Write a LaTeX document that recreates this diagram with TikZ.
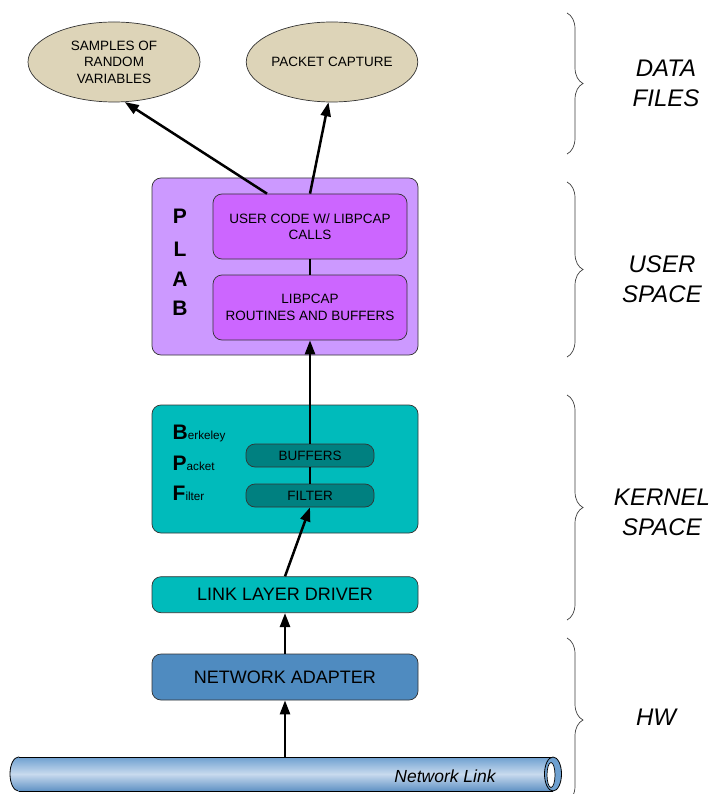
\documentclass[tikz,border=0pt]{standalone}
\usepackage{fontspec}
\setmainfont{Liberation Sans}
\usetikzlibrary{arrows.meta,decorations.pathreplacing,shapes.geometric,calc}
\definecolor{tanC}{RGB}{221,212,184}
\definecolor{plabout}{RGB}{204,153,255}
\definecolor{plabin}{RGB}{204,102,255}
\definecolor{tealA}{RGB}{0,187,187}
\definecolor{tealD}{RGB}{0,128,128}
\definecolor{adapt}{RGB}{79,139,192}
\definecolor{cylT}{RGB}{110,160,208}
\definecolor{cylM}{RGB}{200,218,238}
\definecolor{cylB}{RGB}{95,145,196}
\begin{document}
\begin{tikzpicture}[x=1pt,y=-1pt,
  box/.style={draw=black!80, line width=0.7pt, rounded corners=9pt, inner sep=0pt, align=center},
  smalltxt/.style={font=\fontsize{13.5}{16.5}\selectfont},
  bigtxt/.style={font=\fontsize{18}{21}\selectfont},
  arr/.style={line width=2.5pt, -{Triangle[length=14pt,width=10pt]}},
  plainlink/.style={line width=2.5pt},
  brc/.style={decorate, decoration={brace, amplitude=16pt}, draw=black!75, line width=0.7pt},
  side/.style={font=\fontsize{24}{30}\selectfont\itshape, align=center},
  plabletter/.style={anchor=base, font=\fontsize{21}{21}\selectfont\bfseries}
]
\clip (0,0) rectangle (714,794);
\fill[white] (0,0) rectangle (714,794);

% ellipses
\node[ellipse, draw=black!80, line width=0.7pt, fill=tanC, minimum width=172pt, minimum height=80pt, inner sep=0pt, align=center, smalltxt] (e1) at (114,62) {SAMPLES OF\\RANDOM\\VARIABLES};
\node[ellipse, draw=black!80, line width=0.7pt, fill=tanC, minimum width=171pt, minimum height=80pt, inner sep=0pt, align=center, smalltxt] (e2) at (332,62) {PACKET CAPTURE};

% PLAB
\node[box, fill=plabout, minimum width=266pt, minimum height=177pt] (plab) at (285,266.5) {};
\node[box, fill=plabin, minimum width=194pt, minimum height=65pt, smalltxt] (user) at (310,226.5) {USER CODE W/ LIBPCAP\\CALLS};
\node[box, fill=plabin, minimum width=194pt, minimum height=65pt, smalltxt] (libp) at (310,307.5) {LIBPCAP\\ROUTINES AND BUFFERS};
\node[plabletter] (pP) at (180,224) {P};
\node[plabletter] (pL) at (180,256) {L};
\node[plabletter] (pA) at (180,286) {A};
\node[plabletter] (pB) at (180,315) {B};

% BPF
\node[box, fill=tealA, minimum width=266pt, minimum height=128pt] (bpf) at (285,469) {};
\node[box, fill=tealD, rounded corners=9pt, minimum width=128pt, minimum height=23pt, smalltxt] (buffers) at (310,455.5) {BUFFERS};
\node[box, fill=tealD, rounded corners=9pt, minimum width=128pt, minimum height=23pt, smalltxt] (filter) at (310,495.5) {FILTER};
\node[anchor=base west, inner sep=0pt] (bB) at (172.5,439) {\fontsize{21}{21}\selectfont\bfseries B\fontsize{11.7}{12}\mdseries\selectfont erkeley};
\node[anchor=base west, inner sep=0pt] (bP) at (172.5,470) {\fontsize{21}{21}\selectfont\bfseries P\fontsize{11.7}{12}\mdseries\selectfont acket};
\node[anchor=base west, inner sep=0pt] (bF) at (172.5,500) {\fontsize{21}{21}\selectfont\bfseries F\fontsize{11.7}{12}\mdseries\selectfont ilter};

% link layer driver and adapter
\node[box, fill=tealA, minimum width=266pt, minimum height=36pt, bigtxt] (lld) at (285,594.7) {LINK LAYER DRIVER};
\node[box, fill=adapt, minimum width=266pt, minimum height=46pt, bigtxt] (na) at (285,677) {NETWORK ADAPTER};

% network link cylinder
\shade[top color=cylT, bottom color=cylB, middle color=cylM, draw=black, line width=0.8pt] (18.5,774) ellipse (8.5 and 17);
\shade[top color=cylT, bottom color=cylB, middle color=cylM] (18.5,757) rectangle (553,791);
\draw[line width=0.8pt] (18.5,757) -- (553,757);
\draw[line width=0.8pt] (18.5,791) -- (553,791);
\draw[line width=0.8pt, fill=cylT] (553,774) ellipse (8.5 and 17);
\draw[line width=0.7pt, fill=white] (551,775) ellipse (4 and 12.5);
\node[anchor=base, inner sep=0pt, font=\fontsize{17.5}{20}\selectfont\itshape] (nltxt) at (445,782) {Network Link};
\coordinate (nl) at (285,757);

% connectors
\draw[arr] (nl) -- (na.south);
\draw[arr] (na.north) -- (lld.south);
\draw[arr] (lld.north) -- (filter.south);
\draw[plainlink] (filter.north) -- (buffers.south);
\draw[arr] (buffers.north) -- (libp.south);
\draw[plainlink] (libp.north) -- (user.south);
\draw[arr] ($(user.north)+(-43,0)$) -- (e1.-75);
\draw[arr] (user.north) -- (e2.-95);

% braces
\coordinate (b1a) at (567,13);  \coordinate (b1b) at (567,154);
\coordinate (b2a) at (567,182); \coordinate (b2b) at (567,357);
\coordinate (b3a) at (567,395); \coordinate (b3b) at (567,620);
\coordinate (b4a) at (567,638); \coordinate (b4b) at (567,802);
\draw[brc] (b1a) -- (b1b);
\draw[brc] (b2a) -- (b2b);
\draw[brc] (b3a) -- (b3b);
\draw[brc] (b4a) -- (b4b);

\node[side] (l1) at (666,83) {DATA\\FILES};
\node[side] (l2) at (662,279) {USER\\SPACE};
\node[side] (l3) at (662,512) {KERNEL\\SPACE};
\node[side] (l4) at (656,717) {HW};
\end{tikzpicture}
\end{document}
